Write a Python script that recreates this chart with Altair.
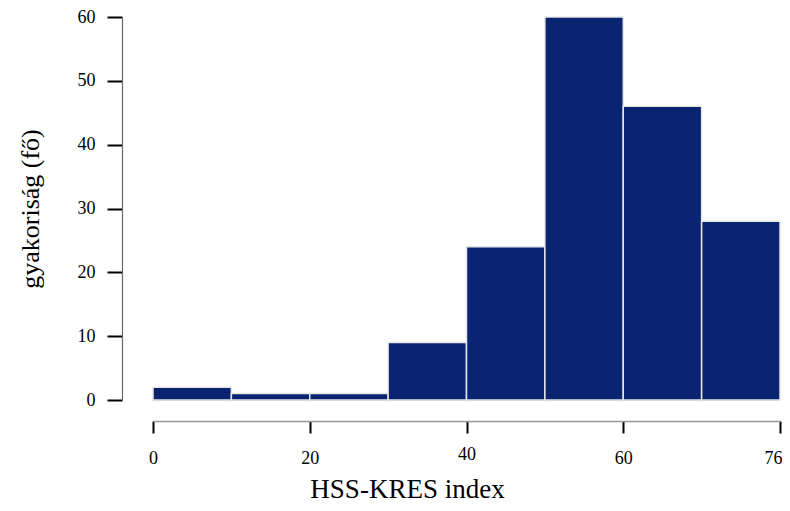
import altair as alt
import pandas as pd

# Histogram data (bins of width 10)
bin_start = [0, 10, 20, 30, 40, 50, 60, 70]
bin_end = [10, 20, 30, 40, 50, 60, 70, 80]
counts = [2, 1, 1, 9, 24, 60, 46, 28]

x_ticks = [0, 20, 40, 60, 80]
x_tick_labels = ["0", "20", "40", "60", "76"]
y_ticks = [0, 10, 20, 30, 40, 50, 60]

df = pd.DataFrame({"start": bin_start, "end": bin_end, "count": counts})

label_expr = "datum.label"
for v, lab in zip(x_ticks, x_tick_labels):
    label_expr = f"datum.value == {v} ? '{lab}' : ({label_expr})"

FONT = "Liberation Serif"
W, H = 627, 383

bars = alt.Chart(df).mark_rect(
    color="#0b2471", stroke="#e6e6e6", strokeWidth=1.5
).encode(
    x=alt.X(
        "start:Q",
        scale=alt.Scale(domain=[0, 80], nice=False, zero=False),
        axis=alt.Axis(
            values=x_ticks,
            labelExpr=label_expr,
            offset=21,
            grid=False,
            domainColor="#999999",
            domainWidth=1.5,
            tickColor="black",
            tickWidth=2,
            tickSize=12,
            labelPadding={"condition": {"test": "datum.value == 40", "value": 12}, "value": 16},
            labelFont=FONT,
            labelFontSize=18,
            labelColor="black",
            labelFlush=False,
            labelAlign={"condition": {"test": "datum.value == 80", "value": "right"}, "value": "center"},
            labelOffset={"condition": {"test": "datum.value == 80", "value": 2}, "value": 0},
            title="HSS-KRES index",
            titleFont=FONT,
            titleFontSize=27,
            titleFontWeight="normal",
            titleColor="black",
            titleX=254,
            titleY=76,
            titleAlign="center",
            titleBaseline="alphabetic",
        ),
    ),
    x2="end:Q",
    y=alt.Y(
        "count:Q",
        scale=alt.Scale(domain=[0, 60], nice=False),
        axis=alt.Axis(
            values=y_ticks,
            offset=31,
            grid=False,
            domainColor="#666666",
            domainWidth=1.2,
            tickColor="black",
            tickWidth=2,
            tickSize=15,
            labelPadding=12,
            labelFont=FONT,
            labelFontSize=18,
            labelColor="black",
            labelFlush=False,
            title="gyakoriság (fő)",
            titleFont=FONT,
            titleFontSize=26,
            titleFontWeight="normal",
            titleColor="black",
            titleX=-92,
            titleY=H / 2,
            titleAlign="center",
            titleBaseline="middle",
            titleAngle=270,
        ),
    ),
    y2=alt.datum(0),
)

baseline = alt.Chart(pd.DataFrame({"y": [0]})).mark_rule(
    color="#999999", strokeWidth=1.5
).encode(y="y:Q")

chart = alt.layer(baseline, bars).properties(
    width=W,
    height=H,
    background="white",
    autosize=alt.AutoSizeParams(type="none"),
    padding={"left": 145, "top": 9, "right": 2, "bottom": 103},
).configure_view(stroke=None)

chart.save("out.html", embed_options={"renderer": "svg", "actions": False})
